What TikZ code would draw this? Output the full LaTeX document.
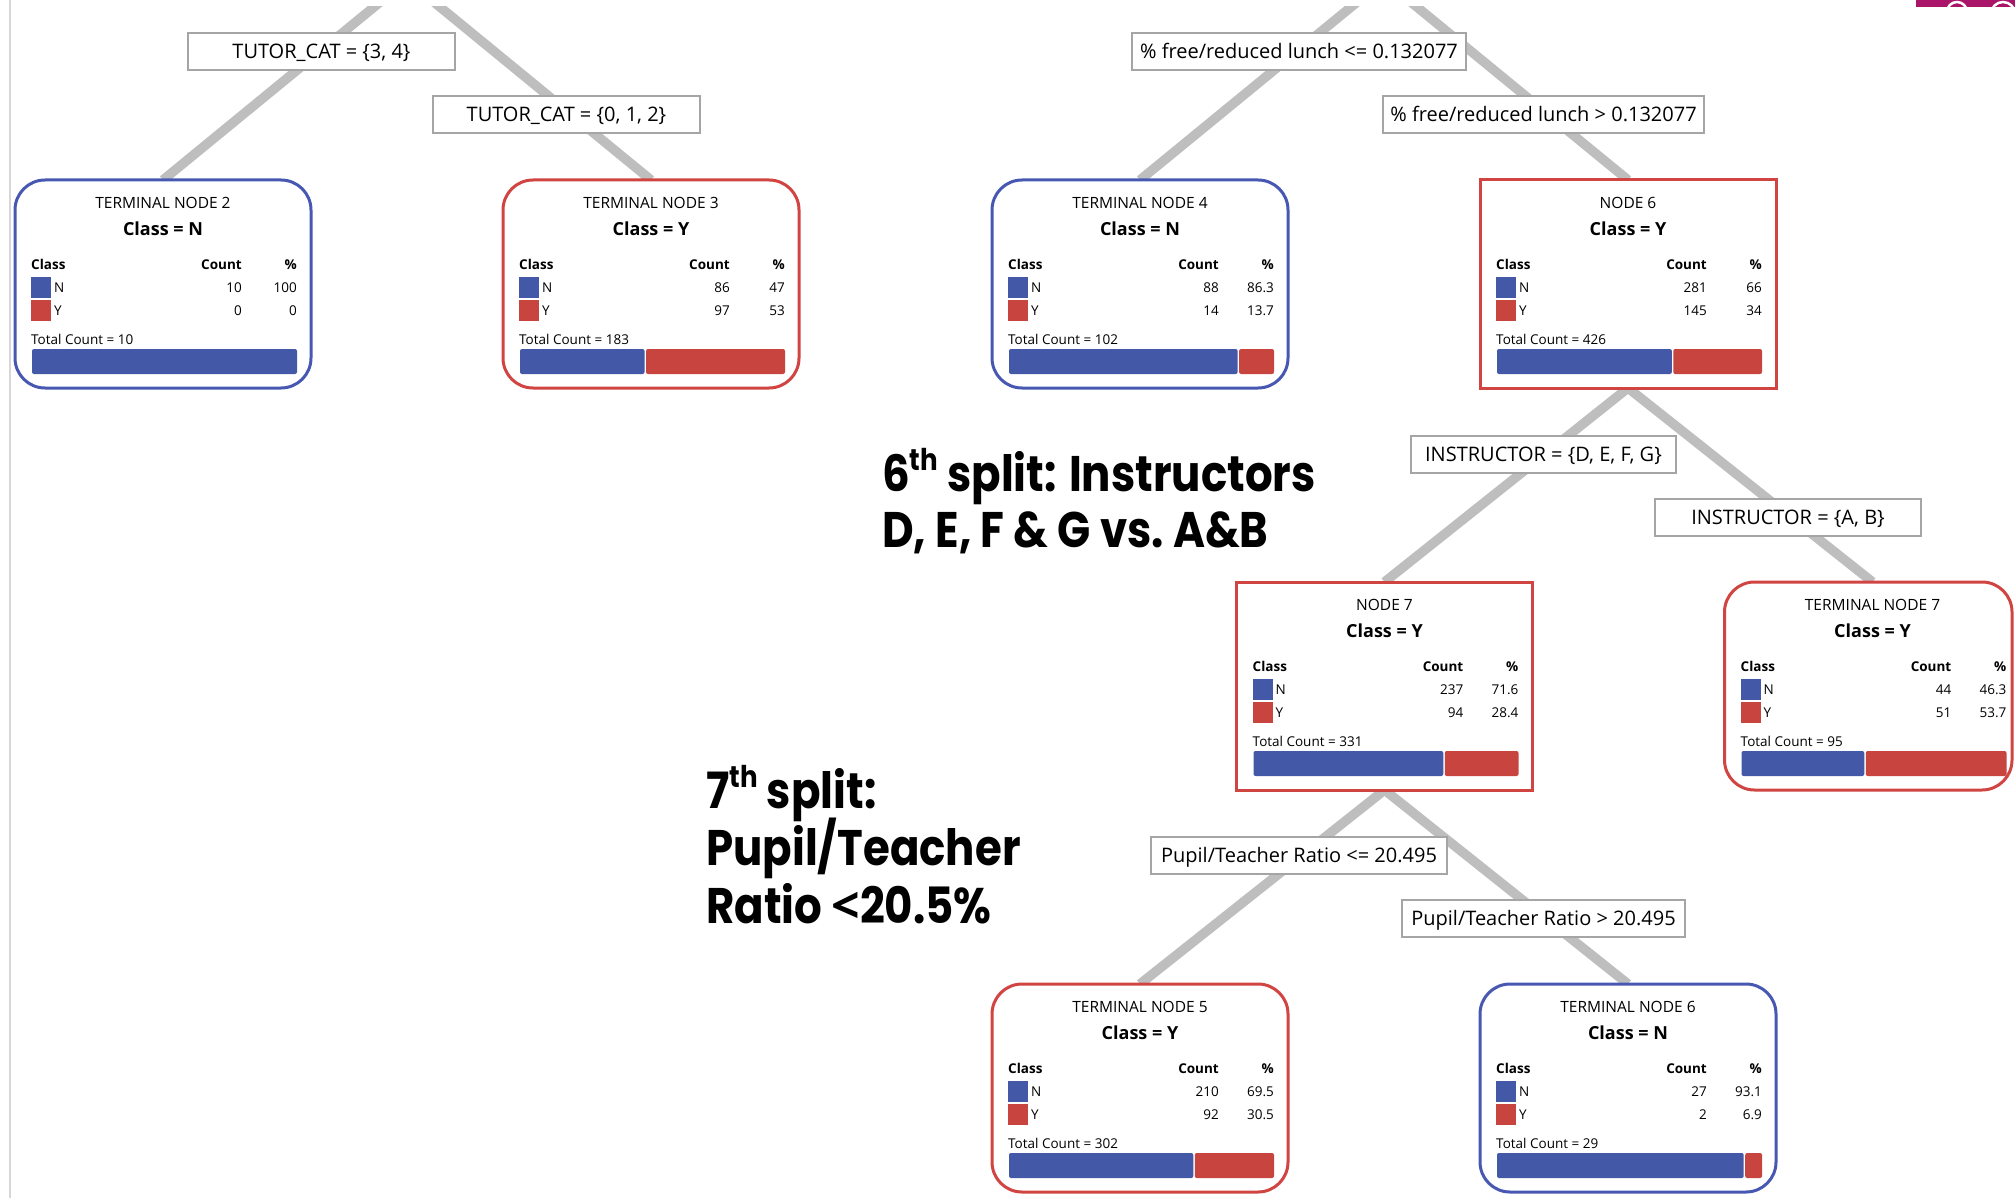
\documentclass[tikz,border=0pt]{standalone}
\usepackage{fontspec}
\setmainfont{Open Sans}
\newfontfamily\gothic{Poppins}[FakeStretch=0.87]
\newfontfamily\ltfont{Open Sans}
\usetikzlibrary{backgrounds,calc}
\definecolor{cN}{RGB}{68,88,168}
\definecolor{cY}{RGB}{200,68,62}
\definecolor{bN}{RGB}{72,88,178}
\definecolor{bY}{RGB}{208,68,66}
\definecolor{lnk}{RGB}{190,190,190}
\definecolor{lbd}{RGB}{165,165,165}
\definecolor{mag}{RGB}{170,20,105}
\definecolor{frame}{RGB}{215,215,215}
\tikzset{
  boxbase/.style={rectangle, fill=white, line width=3pt, minimum width=296pt, minimum height=208pt, inner sep=0pt, outer sep=0pt, anchor=north west},
  termN/.style={boxbase, draw=bN, rounded corners=30pt},
  termY/.style={boxbase, draw=bY, rounded corners=30pt},
  innerY/.style={boxbase, draw=bY},
  ttl/.style={inner sep=0pt, text height=11.1pt, text depth=0pt, font=\fontsize{15.5}{18}\selectfont},
  cls/.style={inner sep=0pt, text height=12.9pt, text depth=0pt, font=\bfseries\fontsize{18}{21}\selectfont},
  hdr/.style={inner sep=0pt, text height=9.6pt, text depth=0pt, font=\bfseries\fontsize{13.5}{16}\selectfont},
  row/.style={inner sep=0pt, text height=9.6pt, text depth=0pt, font=\fontsize{13.5}{16}\selectfont},
  splitlbl/.style={draw=lbd, line width=1.5pt, fill=white, minimum height=37pt, inner sep=0pt, text height=14.3pt, text depth=0pt, font=\fontsize{20}{24}\selectfont},
  link/.style={draw=lnk, line width=9.5pt},
  note/.style={inner sep=0pt, anchor=base west, font=\gothic\bfseries\fontsize{50}{60}\selectfont},
}
\newcommand\sups[1]{\raisebox{0.42em}{\fontsize{30}{30}\selectfont #1}}
\newcommand\treenode[9]{%
  \node[#3] (#1) at #2 {};
  \pgfmathsetmacro\tnfrac{#6/(#6+#8)}%
  \pgfmathsetmacro\tnsplit{17+265*\tnfrac}%
  \pgfmathtruncatemacro\tntot{#6+#8}%
  \begin{scope}[shift={(#1.north west)}]
    \node[ttl] at (148,22.5) {#4};
    \node[cls] at (148,49.5) {Class = #5};
    \node[hdr, anchor=west] at (16,84.5) {Class};
    \node[hdr, anchor=east] at (227,84.5) {Count};
    \node[hdr, anchor=east] at (282,84.5) {\%};
    \fill[cN] (16,97) rectangle (36,118);
    \fill[cY] (16,120) rectangle (36,141);
    \node[row, anchor=west] at (39,107.5) {N};
    \node[row, anchor=west] at (39,130.5) {Y};
    \node[row, anchor=east] at (227,107.5) {#6};
    \node[row, anchor=east] at (227,130.5) {#8};
    \node[row, anchor=east] at (282,107.5) {#7};
    \node[row, anchor=east] at (282,130.5) {#9};
    \node[row, anchor=west] at (16,159.5) {Total Count = \tntot};
    \fill[cN, rounded corners=2pt] (17,169) rectangle ({\tnsplit},194);
    \ifnum#8>0 \fill[cY, rounded corners=2pt] ({\tnsplit+1.5},169) rectangle (282,194);\fi
  \end{scope}}
\begin{document}
\begin{tikzpicture}[x=1pt, y=-1pt]
\useasboundingbox (0,0) rectangle (2015,1198);
% tree nodes
\treenode{tn2}{(15,180)}{termN}{TERMINAL NODE 2}{N}{10}{100}{0}{0}
\treenode{tn3}{(503,180)}{termY}{TERMINAL NODE 3}{Y}{86}{47}{97}{53}
\treenode{tn4}{(992,180)}{termN}{TERMINAL NODE 4}{N}{88}{86.3}{14}{13.7}
\treenode{n6}{(1480,180)}{innerY}{NODE 6}{Y}{281}{66}{145}{34}
\treenode{n7}{(1236.5,582)}{innerY}{NODE 7}{Y}{237}{71.6}{94}{28.4}
\treenode{tn7}{(1724.5,582)}{termY, minimum width=287.5pt}{TERMINAL NODE 7}{Y}{44}{46.3}{51}{53.7}
\treenode{tn5}{(992,984)}{termY}{TERMINAL NODE 5}{Y}{210}{69.5}{92}{30.5}
\treenode{tn6}{(1480,984)}{termN}{TERMINAL NODE 6}{N}{27}{93.1}{2}{6.9}
% connectors
\begin{scope}[on background layer]
  \fill[white] (0,0) rectangle (2015,1198);
  \clip (0,7) rectangle (2015,1198);
  \coordinate (p1) at (407,-20);
  \coordinate (p2) at (1384,-20);
  \draw[link] (p1) -- (tn2.north);
  \draw[link] (p1) -- (tn3.north);
  \draw[link] (p2) -- (tn4.north);
  \draw[link] (p2) -- (n6.north);
  \draw[link] (n6.south) -- (n7.north);
  \draw[link] (n6.south) -- ($(tn7.north west)+(148,0)$);
  \draw[link] (n7.south) -- (tn5.north);
  \draw[link] (n7.south) -- (tn6.north);
\end{scope}
% split labels
\node[splitlbl, minimum width=267pt] (l1) at (321.5,51.5) {TUTOR\_CAT = \{3, 4\}};
\node[splitlbl, minimum width=267pt] (l2) at (566.5,114.5) {TUTOR\_CAT = \{0, 1, 2\}};
\node[splitlbl, minimum width=334pt] (l3) at (1299,51.5) {\% free/reduced lunch <= 0.132077};
\node[splitlbl, minimum width=321pt] (l4) at (1543.5,114.5) {\% free/reduced lunch > 0.132077};
\node[splitlbl, minimum width=265pt] (l5) at (1543.5,454.5) {INSTRUCTOR = \{D, E, F, G\}};
\node[splitlbl, minimum width=266pt] (l6) at (1788,517.5) {INSTRUCTOR = \{A, B\}};
\node[splitlbl, minimum width=296pt] (l7) at (1299,855.5) {Pupil/Teacher Ratio <= 20.495};
\node[splitlbl, minimum width=283pt] (l8) at (1543.5,918.5) {Pupil/Teacher Ratio > 20.495};
% annotations
\node[note] (a1) at (882,491) {6\sups{th} split: Instructors};
\node[note] (a2) at (882,547) {D, E, F \& G vs.\ A\&B};
\node[note] (a3) at (706,808) {7\sups{th} split:};
\node[note] (a4) at (706,865) {Pupil/Teacher};
\node[note] (a5) at (706,923) {Ratio {\ltfont\bfseries <}20.5\%};
% frame line and logo fragment
\draw[frame, line width=1.5pt] (10,0) -- (10,1198);
\begin{scope}
  \clip (1916,0) rectangle (2015,7);
  \fill[mag] (1916,0) rectangle (2015,7);
  \draw[white, line width=2.5pt] (1957,12) circle (10);
  \draw[white, line width=2.5pt] (2003,14) circle (12);
\end{scope}
\end{tikzpicture}
\end{document}
